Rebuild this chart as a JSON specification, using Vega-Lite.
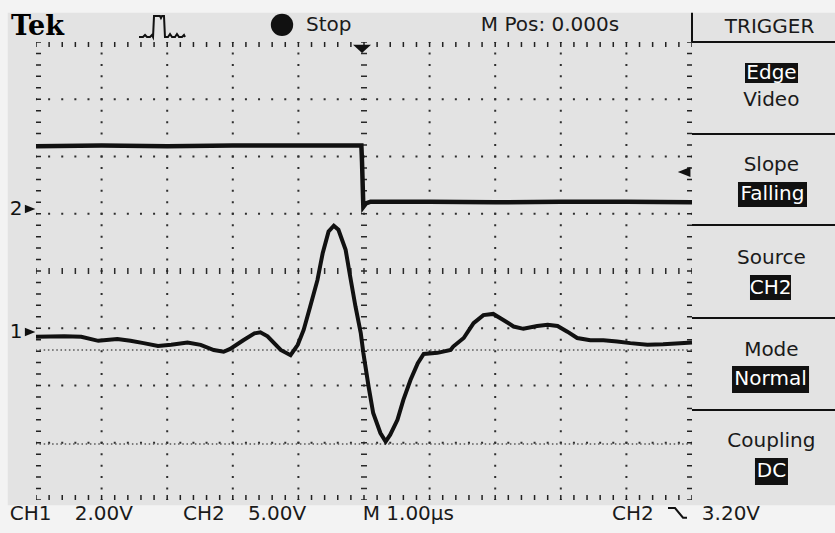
{
  "$schema": "https://vega.github.io/schema/vega-lite/v6.json",
  "width": 656,
  "height": 458,
  "autosize": {"type": "none"},
  "padding": {"left": 36, "top": 42, "right": 143, "bottom": 33},
  "background": "#f3f3f3",
  "config": {"font": "DejaVu Sans", "view": {"stroke": "#111111", "strokeWidth": 2}},
  "datasets": {
    "bg": [{"t1": -5.43, "t2": 7.3, "v1": 4.51, "v2": -4.09}],
    "gridx": [{"t": -4}, {"t": -3}, {"t": -2}, {"t": -1}, {"t": 1}, {"t": 2}, {"t": 3}, {"t": 4}],
    "gridy": [{"v": -3}, {"v": -2}, {"v": -1}, {"v": 1}, {"v": 2}, {"v": 3}],
    "centerh": [{"v": 0}],
    "centerv": [{"t": 0}],
    "edgeh": [{"v": 3.956}, {"v": -3.956}],
    "edgev": [{"t": -4.962}, {"t": 4.962}],
    "cursors": [{"v": -1.38}, {"v": -3.02}],
    "panel": [
      {"t1": 5, "t2": 7.3, "v1": 4.0, "v2": 4.0},
      {"t1": 5, "t2": 7.3, "v1": 2.393, "v2": 2.393},
      {"t1": 5, "t2": 7.3, "v1": 0.803, "v2": 0.803},
      {"t1": 5, "t2": 7.3, "v1": -0.821, "v2": -0.821},
      {"t1": 5, "t2": 7.3, "v1": -2.428, "v2": -2.428},
      {"t1": 5, "t2": 5, "v1": 4.0, "v2": 4.51}
    ],
    "ch2": [
      {"t": -5.0, "v": 2.18}, {"t": -4.0, "v": 2.19}, {"t": -3.0, "v": 2.18}, {"t": -2.0, "v": 2.19},
      {"t": -1.0, "v": 2.19}, {"t": -0.04, "v": 2.19}, {"t": -0.03, "v": 1.9}, {"t": -0.02, "v": 1.5},
      {"t": -0.01, "v": 1.12}, {"t": 0.03, "v": 1.18}, {"t": 0.1, "v": 1.21}, {"t": 1.0, "v": 1.21},
      {"t": 2.0, "v": 1.2}, {"t": 3.0, "v": 1.21}, {"t": 4.0, "v": 1.21}, {"t": 5.0, "v": 1.2}
    ],
    "ch1": [
      {"t": -5.0, "v": -1.15}, {"t": -4.57, "v": -1.14}, {"t": -4.31, "v": -1.15}, {"t": -4.05, "v": -1.22},
      {"t": -3.76, "v": -1.19}, {"t": -3.56, "v": -1.22}, {"t": -3.36, "v": -1.26}, {"t": -3.14, "v": -1.31},
      {"t": -2.94, "v": -1.29}, {"t": -2.69, "v": -1.25}, {"t": -2.49, "v": -1.29}, {"t": -2.29, "v": -1.38},
      {"t": -2.14, "v": -1.41}, {"t": -2.04, "v": -1.36}, {"t": -1.84, "v": -1.21}, {"t": -1.67, "v": -1.09},
      {"t": -1.58, "v": -1.07}, {"t": -1.47, "v": -1.14}, {"t": -1.27, "v": -1.38}, {"t": -1.12, "v": -1.47},
      {"t": -1.01, "v": -1.29}, {"t": -0.92, "v": -1.03}, {"t": -0.82, "v": -0.62}, {"t": -0.71, "v": -0.16},
      {"t": -0.63, "v": 0.31}, {"t": -0.54, "v": 0.69}, {"t": -0.46, "v": 0.79}, {"t": -0.39, "v": 0.72},
      {"t": -0.28, "v": 0.37}, {"t": -0.21, "v": -0.1}, {"t": -0.13, "v": -0.62}, {"t": -0.05, "v": -1.08},
      {"t": -0.01, "v": -1.43}, {"t": 0.07, "v": -2.02}, {"t": 0.14, "v": -2.48}, {"t": 0.25, "v": -2.83},
      {"t": 0.33, "v": -2.98}, {"t": 0.4, "v": -2.86}, {"t": 0.51, "v": -2.6}, {"t": 0.6, "v": -2.25},
      {"t": 0.71, "v": -1.9}, {"t": 0.82, "v": -1.61}, {"t": 0.91, "v": -1.45}, {"t": 1.12, "v": -1.43},
      {"t": 1.32, "v": -1.38}, {"t": 1.36, "v": -1.32}, {"t": 1.52, "v": -1.17}, {"t": 1.67, "v": -0.91},
      {"t": 1.82, "v": -0.77}, {"t": 1.97, "v": -0.75}, {"t": 2.13, "v": -0.86}, {"t": 2.28, "v": -0.97},
      {"t": 2.43, "v": -1.01}, {"t": 2.64, "v": -0.96}, {"t": 2.8, "v": -0.94}, {"t": 2.95, "v": -0.96},
      {"t": 3.1, "v": -1.06}, {"t": 3.25, "v": -1.17}, {"t": 3.45, "v": -1.21}, {"t": 3.65, "v": -1.21},
      {"t": 3.86, "v": -1.23}, {"t": 4.06, "v": -1.26}, {"t": 4.32, "v": -1.29}, {"t": 4.56, "v": -1.28},
      {"t": 4.82, "v": -1.26}, {"t": 5.0, "v": -1.25}
    ],
    "icons": [
      {"icon": "pulse", "i": 1, "t": -3.43, "v": 4.087}, {"icon": "pulse", "i": 2, "t": -3.369, "v": 4.087},
      {"icon": "pulse", "i": 3, "t": -3.338, "v": 4.122}, {"icon": "pulse", "i": 4, "t": -3.308, "v": 4.087},
      {"icon": "pulse", "i": 5, "t": -3.262, "v": 4.087}, {"icon": "pulse", "i": 6, "t": -3.232, "v": 4.122},
      {"icon": "pulse", "i": 7, "t": -3.216, "v": 4.087}, {"icon": "pulse", "i": 8, "t": -3.201, "v": 4.454},
      {"icon": "pulse", "i": 9, "t": -3.11, "v": 4.454}, {"icon": "pulse", "i": 10, "t": -3.095, "v": 4.419},
      {"icon": "pulse", "i": 11, "t": -3.079, "v": 4.454}, {"icon": "pulse", "i": 12, "t": -3.049, "v": 4.454},
      {"icon": "pulse", "i": 13, "t": -3.034, "v": 4.087}, {"icon": "pulse", "i": 14, "t": -2.988, "v": 4.087},
      {"icon": "pulse", "i": 15, "t": -2.957, "v": 4.14}, {"icon": "pulse", "i": 16, "t": -2.927, "v": 4.087},
      {"icon": "pulse", "i": 17, "t": -2.881, "v": 4.087}, {"icon": "pulse", "i": 18, "t": -2.851, "v": 4.14},
      {"icon": "pulse", "i": 19, "t": -2.82, "v": 4.087}, {"icon": "pulse", "i": 20, "t": -2.774, "v": 4.087},
      {"icon": "pulse", "i": 21, "t": -2.744, "v": 4.122}, {"icon": "pulse", "i": 22, "t": -2.729, "v": 4.087},
      {"icon": "slope", "i": 1, "t": 4.634, "v": -4.14}, {"icon": "slope", "i": 2, "t": 4.741, "v": -4.14},
      {"icon": "slope", "i": 3, "t": 4.863, "v": -4.31}, {"icon": "slope", "i": 4, "t": 4.924, "v": -4.31}
    ],
    "trigtop": [{"t": -0.03, "v": 3.88}],
    "triglevel": [{"t": 4.88, "v": 1.73}],
    "gnd": [{"label": "2", "t": -5.305, "tm": -5.09, "v": 1.083}, {"label": "1", "t": -5.305, "tm": -5.09, "v": -1.066}],
    "dot": [{"t": -1.25, "v": 4.3}],
    "tek": [{"label": "Tek", "t": -5.38, "v": 4.26}],
    "texts": [
      {"label": "Stop", "t": -0.884, "v": 4.3},
      {"label": "M Pos: 0.000s", "t": 1.78, "v": 4.3},
      {"label": "TRIGGER", "t": 5.5, "v": 4.26},
      {"label": "CH1", "t": -5.4, "v": -4.25},
      {"label": "2.00V", "t": -4.41, "v": -4.25},
      {"label": "CH2", "t": -2.76, "v": -4.25},
      {"label": "5.00V", "t": -1.77, "v": -4.25},
      {"label": "M 1.00µs", "t": -0.02, "v": -4.25},
      {"label": "CH2", "t": 3.78, "v": -4.25},
      {"label": "3.20V", "t": 5.15, "v": -4.25}
    ],
    "menu": [
      {"label": "Video", "t": 6.21, "v": 2.987},
      {"label": "Slope", "t": 6.21, "v": 1.852},
      {"label": "Source", "t": 6.21, "v": 0.227},
      {"label": "Mode", "t": 6.21, "v": -1.38},
      {"label": "Coupling", "t": 6.21, "v": -2.969}
    ],
    "menuhi": [
      {"label": "Edge", "t": 6.212, "v": 3.459, "t1": 5.808, "t2": 6.616, "v1": 3.633, "v2": 3.284},
      {"label": "Falling", "t": 6.227, "v": 1.337, "t1": 5.701, "t2": 6.753, "v1": 1.555, "v2": 1.118},
      {"label": "CH2", "t": 6.197, "v": -0.289, "t1": 5.884, "t2": 6.509, "v1": -0.07, "v2": -0.507},
      {"label": "Normal", "t": 6.197, "v": -1.895, "t1": 5.61, "t2": 6.784, "v1": -1.659, "v2": -2.131},
      {"label": "DC", "t": 6.212, "v": -3.502, "t1": 5.96, "t2": 6.463, "v1": -3.266, "v2": -3.738}
    ]
  },
  "layer": [
    {
      "data": {"name": "bg"},
      "mark": {"type": "rect", "color": "#e3e3e3"},
      "encoding": {
        "x": {"field": "t1", "type": "quantitative", "scale": {"domain": [-5, 5], "nice": false, "zero": false}, "axis": null},
        "x2": {"field": "t2"},
        "y": {"field": "v1", "type": "quantitative", "scale": {"domain": [-4, 4], "nice": false, "zero": false}, "axis": null},
        "y2": {"field": "v2"}
      }
    },
    {
      "data": {"name": "gridx"},
      "mark": {"type": "rule", "color": "#2e2e2e", "strokeWidth": 2, "strokeDash": [2, 9.45], "strokeDashOffset": 1},
      "encoding": {"x": {"field": "t", "type": "quantitative", "scale": {"domain": [-5, 5], "nice": false, "zero": false}, "axis": null}}
    },
    {
      "data": {"name": "gridy"},
      "mark": {"type": "rule", "color": "#2e2e2e", "strokeWidth": 2, "strokeDash": [2, 11.12], "strokeDashOffset": 1},
      "encoding": {"y": {"field": "v", "type": "quantitative", "scale": {"domain": [-4, 4], "nice": false, "zero": false}, "axis": null}}
    },
    {
      "data": {"name": "cursors"},
      "mark": {"type": "rule", "color": "#555555", "strokeWidth": 1.5, "strokeDash": [1.5, 2.7]},
      "encoding": {"y": {"field": "v", "type": "quantitative", "scale": {"domain": [-4, 4], "nice": false, "zero": false}, "axis": null}}
    },
    {
      "data": {"name": "centerh"},
      "mark": {"type": "rule", "color": "#2a2a2a", "strokeWidth": 6, "strokeDash": [1.5, 11.62], "strokeDashOffset": 0.75},
      "encoding": {"y": {"field": "v", "type": "quantitative", "scale": {"domain": [-4, 4], "nice": false, "zero": false}, "axis": null}}
    },
    {
      "data": {"name": "centerv"},
      "mark": {"type": "rule", "color": "#2a2a2a", "strokeWidth": 6, "strokeDash": [1.5, 9.95], "strokeDashOffset": 0.75},
      "encoding": {"x": {"field": "t", "type": "quantitative", "scale": {"domain": [-5, 5], "nice": false, "zero": false}, "axis": null}}
    },
    {
      "data": {"name": "edgeh"},
      "mark": {"type": "rule", "color": "#222222", "strokeWidth": 5, "strokeDash": [1.5, 11.62], "strokeDashOffset": 0.75},
      "encoding": {"y": {"field": "v", "type": "quantitative", "scale": {"domain": [-4, 4], "nice": false, "zero": false}, "axis": null}}
    },
    {
      "data": {"name": "edgev"},
      "mark": {"type": "rule", "color": "#222222", "strokeWidth": 5, "strokeDash": [1.5, 9.95], "strokeDashOffset": 0.75},
      "encoding": {"x": {"field": "t", "type": "quantitative", "scale": {"domain": [-5, 5], "nice": false, "zero": false}, "axis": null}}
    },
    {
      "data": {"name": "panel"},
      "mark": {"type": "rule", "color": "#111111", "strokeWidth": 2},
      "encoding": {
        "x": {"field": "t1", "type": "quantitative", "scale": {"domain": [-5, 5], "nice": false, "zero": false}, "axis": null},
        "x2": {"field": "t2"},
        "y": {"field": "v1", "type": "quantitative", "scale": {"domain": [-4, 4], "nice": false, "zero": false}, "axis": null},
        "y2": {"field": "v2"}
      }
    },
    {
      "data": {"name": "ch2"},
      "mark": {"type": "line", "color": "#111111", "strokeWidth": 4.5, "strokeJoin": "miter"},
      "encoding": {
        "x": {"field": "t", "type": "quantitative", "scale": {"domain": [-5, 5], "nice": false, "zero": false}, "axis": null},
        "y": {"field": "v", "type": "quantitative", "scale": {"domain": [-4, 4], "nice": false, "zero": false}, "axis": null}
      }
    },
    {
      "data": {"name": "ch1"},
      "mark": {"type": "line", "color": "#111111", "strokeWidth": 4},
      "encoding": {
        "x": {"field": "t", "type": "quantitative", "scale": {"domain": [-5, 5], "nice": false, "zero": false}, "axis": null},
        "y": {"field": "v", "type": "quantitative", "scale": {"domain": [-4, 4], "nice": false, "zero": false}, "axis": null}
      }
    },
    {
      "data": {"name": "icons"},
      "mark": {"type": "line", "color": "#111111", "strokeWidth": 2},
      "encoding": {
        "x": {"field": "t", "type": "quantitative", "scale": {"domain": [-5, 5], "nice": false, "zero": false}, "axis": null},
        "y": {"field": "v", "type": "quantitative", "scale": {"domain": [-4, 4], "nice": false, "zero": false}, "axis": null},
        "detail": {"field": "icon"},
        "order": {"field": "i", "type": "quantitative"}
      }
    },
    {
      "data": {"name": "trigtop"},
      "mark": {"type": "point", "filled": true, "color": "#111111", "opacity": 1, "size": 324, "shape": "M-1,-0.45L1,-0.45L0,0.45Z"},
      "encoding": {
        "x": {"field": "t", "type": "quantitative", "scale": {"domain": [-5, 5], "nice": false, "zero": false}, "axis": null},
        "y": {"field": "v", "type": "quantitative", "scale": {"domain": [-4, 4], "nice": false, "zero": false}, "axis": null}
      }
    },
    {
      "data": {"name": "triglevel"},
      "mark": {"type": "point", "filled": true, "color": "#111111", "opacity": 1, "size": 160, "shape": "M1,-0.8L1,0.8L-1,0Z"},
      "encoding": {
        "x": {"field": "t", "type": "quantitative", "scale": {"domain": [-5, 5], "nice": false, "zero": false}, "axis": null},
        "y": {"field": "v", "type": "quantitative", "scale": {"domain": [-4, 4], "nice": false, "zero": false}, "axis": null}
      }
    },
    {
      "data": {"name": "gnd"},
      "mark": {"type": "point", "filled": true, "color": "#111111", "opacity": 1, "size": 110, "shape": "M-1,-0.8L1,0L-1,0.8Z"},
      "encoding": {
        "x": {"field": "tm", "type": "quantitative", "scale": {"domain": [-5, 5], "nice": false, "zero": false}, "axis": null},
        "y": {"field": "v", "type": "quantitative", "scale": {"domain": [-4, 4], "nice": false, "zero": false}, "axis": null}
      }
    },
    {
      "data": {"name": "gnd"},
      "mark": {"type": "text", "color": "#111111", "fontSize": 20, "align": "center", "baseline": "middle"},
      "encoding": {
        "x": {"field": "t", "type": "quantitative", "scale": {"domain": [-5, 5], "nice": false, "zero": false}, "axis": null},
        "y": {"field": "v", "type": "quantitative", "scale": {"domain": [-4, 4], "nice": false, "zero": false}, "axis": null},
        "text": {"field": "label"}
      }
    },
    {
      "data": {"name": "dot"},
      "mark": {"type": "point", "filled": true, "color": "#111111", "opacity": 1, "size": 500, "shape": "circle"},
      "encoding": {
        "x": {"field": "t", "type": "quantitative", "scale": {"domain": [-5, 5], "nice": false, "zero": false}, "axis": null},
        "y": {"field": "v", "type": "quantitative", "scale": {"domain": [-4, 4], "nice": false, "zero": false}, "axis": null}
      }
    },
    {
      "data": {"name": "tek"},
      "mark": {"type": "text", "color": "#000000", "font": "DejaVu Serif", "fontWeight": "bold", "fontSize": 27, "align": "left", "baseline": "middle"},
      "encoding": {
        "x": {"field": "t", "type": "quantitative", "scale": {"domain": [-5, 5], "nice": false, "zero": false}, "axis": null},
        "y": {"field": "v", "type": "quantitative", "scale": {"domain": [-4, 4], "nice": false, "zero": false}, "axis": null},
        "text": {"field": "label"}
      }
    },
    {
      "data": {"name": "texts"},
      "mark": {"type": "text", "color": "#1a1a1a", "fontSize": 20, "align": "left", "baseline": "middle"},
      "encoding": {
        "x": {"field": "t", "type": "quantitative", "scale": {"domain": [-5, 5], "nice": false, "zero": false}, "axis": null},
        "y": {"field": "v", "type": "quantitative", "scale": {"domain": [-4, 4], "nice": false, "zero": false}, "axis": null},
        "text": {"field": "label"}
      }
    },
    {
      "data": {"name": "menu"},
      "mark": {"type": "text", "color": "#1a1a1a", "fontSize": 20, "align": "center", "baseline": "middle"},
      "encoding": {
        "x": {"field": "t", "type": "quantitative", "scale": {"domain": [-5, 5], "nice": false, "zero": false}, "axis": null},
        "y": {"field": "v", "type": "quantitative", "scale": {"domain": [-4, 4], "nice": false, "zero": false}, "axis": null},
        "text": {"field": "label"}
      }
    },
    {
      "data": {"name": "menuhi"},
      "mark": {"type": "rect", "color": "#111111"},
      "encoding": {
        "x": {"field": "t1", "type": "quantitative", "scale": {"domain": [-5, 5], "nice": false, "zero": false}, "axis": null},
        "x2": {"field": "t2"},
        "y": {"field": "v1", "type": "quantitative", "scale": {"domain": [-4, 4], "nice": false, "zero": false}, "axis": null},
        "y2": {"field": "v2"}
      }
    },
    {
      "data": {"name": "menuhi"},
      "mark": {"type": "text", "color": "#ffffff", "fontSize": 20, "align": "center", "baseline": "middle"},
      "encoding": {
        "x": {"field": "t", "type": "quantitative", "scale": {"domain": [-5, 5], "nice": false, "zero": false}, "axis": null},
        "y": {"field": "v", "type": "quantitative", "scale": {"domain": [-4, 4], "nice": false, "zero": false}, "axis": null},
        "text": {"field": "label"}
      }
    }
  ]
}
